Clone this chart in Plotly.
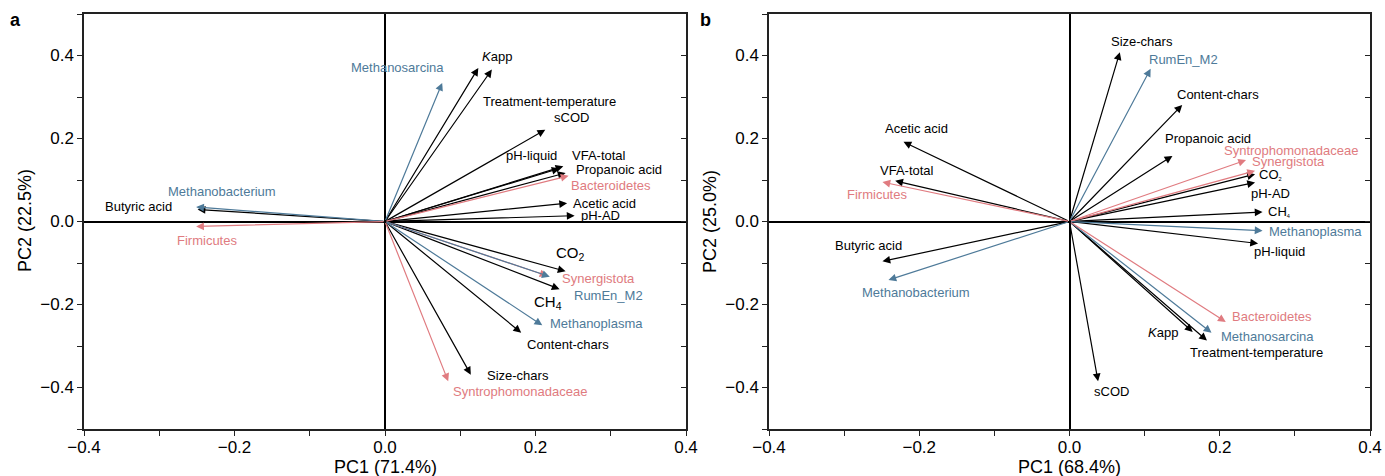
import plotly.graph_objects as go

# ---------------- data ----------------
names = ["Methanosarcina", "Kapp", "Treatment-temperature", "sCOD", "pH-liquid",
         "VFA-total", "Propanoic acid", "Bacteroidetes", "Acetic acid", "pH-AD",
         "Methanobacterium", "Butyric acid", "Firmicutes", "CO2", "Synergistota",
         "RumEn_M2", "CH4", "Methanoplasma", "Content-chars", "Size-chars",
         "Syntrophomonadaceae"]
groups = ["arch", "env", "env", "env", "env",
          "env", "env", "bact", "env", "env",
          "arch", "env", "bact", "env", "bact",
          "arch", "env", "arch", "env", "env",
          "bact"]

# panel a loadings
pc1_a = [0.076, 0.124, 0.142, 0.213, 0.232, 0.237, 0.240, 0.244, 0.242, 0.252,
         -0.251, -0.249, -0.251, 0.240, 0.216, 0.219, 0.232, 0.209, 0.181, 0.114, 0.084]
pc2_a = [0.334, 0.370, 0.366, 0.221, 0.128, 0.133, 0.117, 0.110, 0.044, 0.014,
         0.035, 0.029, -0.012, -0.120, -0.131, -0.133, -0.163, -0.250, -0.268, -0.369, -0.385]

# panel b loadings
pc1_b = [0.189, 0.164, 0.183, 0.038, 0.251, -0.232, 0.137, 0.208, -0.221, 0.247,
         -0.241, -0.249, -0.249, 0.247, 0.247, 0.108, 0.257, 0.257, 0.150, 0.067, 0.235]
pc2_b = [-0.268, -0.266, -0.287, -0.385, -0.053, 0.098, 0.158, -0.242, 0.192, 0.094,
         -0.141, -0.096, 0.095, 0.114, 0.122, 0.368, 0.023, -0.022, 0.281, 0.408, 0.148]

axis_titles_x = ["PC1 (71.4%)", "PC1 (68.4%)"]
axis_titles_y = ["PC2 (22.5%)", "PC2 (25.0%)"]
panel_letters = ["a", "b"]
tick_vals = [-0.4, -0.2, 0.0, 0.2, 0.4]
tick_text = ["\u22120.4", "\u22120.2", "0.0", "0.2", "0.4"]

# label placement (data coords, label centres)
label_pos_a = {
    "Methanosarcina": (0.016, 0.371), "Kapp": (0.149, 0.398),
    "Treatment-temperature": (0.219, 0.289), "sCOD": (0.248, 0.250),
    "pH-liquid": (0.195, 0.158), "VFA-total": (0.285, 0.158),
    "Propanoic acid": (0.311, 0.126), "Bacteroidetes": (0.300, 0.087),
    "Acetic acid": (0.292, 0.044), "pH-AD": (0.286, 0.015),
    "Methanobacterium": (-0.216, 0.073), "Butyric acid": (-0.327, 0.036),
    "Firmicutes": (-0.236, -0.046), "CO2": (0.247, -0.078),
    "Synergistota": (0.284, -0.138), "RumEn_M2": (0.297, -0.179),
    "CH4": (0.216, -0.195), "Methanoplasma": (0.281, -0.245),
    "Content-chars": (0.243, -0.296), "Size-chars": (0.177, -0.371),
    "Syntrophomonadaceae": (0.179, -0.410),
}
label_pos_b = {
    "Acetic acid": (-0.204, 0.223), "VFA-total": (-0.216, 0.124),
    "Firmicutes": (-0.256, 0.065), "Butyric acid": (-0.267, -0.058),
    "Methanobacterium": (-0.204, -0.172), "Size-chars": (0.097, 0.434),
    "RumEn_M2": (0.152, 0.390), "Content-chars": (0.197, 0.305),
    "Propanoic acid": (0.185, 0.201), "Syntrophomonadaceae": (0.295, 0.172),
    "Synergistota": (0.292, 0.145), "CO2": (0.267, 0.114),
    "pH-AD": (0.268, 0.068), "CH4": (0.279, 0.024),
    "Methanoplasma": (0.327, -0.024), "pH-liquid": (0.279, -0.073),
    "Bacteroidetes": (0.269, -0.230), "Kapp": (0.125, -0.267),
    "Methanosarcina": (0.263, -0.276), "Treatment-temperature": (0.249, -0.315),
    "sCOD": (0.056, -0.410),
}

# ---------------- styles ----------------
COLORS = {"env": "#000000", "arch": "#4e7a99", "bact": "#e07b80"}
FONT = "Liberation Sans, Arial, Helvetica, sans-serif"
display_a = {"Kapp": "<i>K</i>app", "CO2": "CO<sub>2</sub>", "CH4": "CH<sub>4</sub>"}
display_b = {"Kapp": "<i>K</i>app", "CO2": "CO<span style='font-size:8px'><sub>2</sub></span>",
             "CH4": "CH<span style='font-size:8px'><sub>4</sub></span>"}
size_a = {"CO2": 15, "CH4": 15}

W, H = 1385, 476
xdom = [[84 / W, 686 / W], [769 / W, 1370 / W]]
ydom = [(476 - 429) / H, (476 - 14) / H]

fig = go.Figure()
annotations = []

panels = [(pc1_a, pc2_a, label_pos_a, display_a, size_a), (pc1_b, pc2_b, label_pos_b, display_b, {})]
for i, (px, py, lpos, disp, fsz) in enumerate(panels):
    xa = "x" if i == 0 else "x2"
    ya = "y" if i == 0 else "y2"
    fig.add_trace(go.Scatter(x=[0], y=[0], mode="markers", marker=dict(opacity=0),
                             xaxis=xa, yaxis=ya, showlegend=False, hoverinfo="skip"))
    order = sorted(range(len(names)), key=lambda k: 0 if groups[k] == "env" else 1)
    for k in order:
        col = COLORS[groups[k]]
        annotations.append(dict(
            x=px[k], y=py[k], ax=0, ay=0, xref=xa, yref=ya, axref=xa, ayref=ya,
            text="", showarrow=True, arrowhead=2, arrowsize=1.3, arrowwidth=1.2,
            arrowcolor=col, standoff=0, startstandoff=0))
    for k, n in enumerate(names):
        lx, ly = lpos[n]
        annotations.append(dict(
            x=lx, y=ly, xref=xa, yref=ya, text=disp.get(n, n), showarrow=False,
            xanchor="center", yanchor="middle",
            font=dict(family=FONT, size=fsz.get(n, 13), color=COLORS[groups[k]])))

    cx = (xdom[i][0] + xdom[i][1]) / 2
    annotations.append(dict(x=cx, y=(476 - 467) / H, xref="paper", yref="paper",
                            text=axis_titles_x[i], showarrow=False, xanchor="center",
                            yanchor="middle", font=dict(family=FONT, size=18, color="#000")))
    annotations.append(dict(x=xdom[i][0] - 59 / W, y=(476 - 221) / H, xref="paper", yref="paper",
                            text=axis_titles_y[i], showarrow=False, textangle=-90,
                            xanchor="center", yanchor="middle",
                            font=dict(family=FONT, size=18, color="#000")))
    annotations.append(dict(x=(15 if i == 0 else 705) / W, y=(476 - 20) / H,
                            xref="paper", yref="paper", text="<b>%s</b>" % panel_letters[i],
                            showarrow=False, xanchor="center", yanchor="middle",
                            font=dict(family=FONT, size=18, color="#000")))

axis_common = dict(range=[-0.5, 0.5], showgrid=False, zeroline=True, zerolinecolor="#000",
                   zerolinewidth=1.5, showline=True, linecolor="#222", linewidth=1.5,
                   mirror=True, ticks="outside", ticklen=5, tickwidth=1.2, tickcolor="#222",
                   tickvals=tick_vals, ticktext=tick_text,
                   tickfont=dict(family=FONT, size=17, color="#000"), automargin=False,
                   fixedrange=True)

minor = dict(ticks="outside", ticklen=5, tickwidth=1.2, tickcolor="#222", dtick=0.1, tick0=0)

layout = dict(
    width=W, height=H, autosize=False, margin=dict(l=0, r=0, t=0, b=0),
    paper_bgcolor="white", plot_bgcolor="white", showlegend=False,
    annotations=annotations,
)
for i in range(2):
    sx = "" if i == 0 else "2"
    xa = dict(axis_common, domain=xdom[i], range=[-0.4, 0.4], anchor="y" + sx, minor=minor,
              ticklabelstandoff=-3)
    ya = dict(axis_common, domain=ydom, range=[-0.5, 0.5], anchor="x" + sx, minor=minor)
    layout["xaxis" + sx] = xa
    layout["yaxis" + sx] = ya

for i, (yname, xname) in enumerate([("yaxis3", "x"), ("yaxis4", "x2")]):
    layout[yname] = dict(range=[-0.5, 0.5], domain=ydom, overlaying="y" if i == 0 else "y2",
                         anchor=xname, side="right", showgrid=False, zeroline=False,
                         showline=False, ticks="inside", ticklen=5, tickwidth=1.2,
                         tickcolor="#222", tickvals=[-0.4, -0.3, -0.2, -0.1, 0, 0.1, 0.2, 0.3, 0.4],
                         showticklabels=False, fixedrange=True)
fig.add_trace(go.Scatter(x=[0], y=[0], xaxis="x", yaxis="y3", mode="markers",
                         marker=dict(opacity=0), showlegend=False, hoverinfo="skip"))
fig.add_trace(go.Scatter(x=[0], y=[0], xaxis="x2", yaxis="y4", mode="markers",
                         marker=dict(opacity=0), showlegend=False, hoverinfo="skip"))

fig.update_layout(**layout)
fig.write_html("out.html")
